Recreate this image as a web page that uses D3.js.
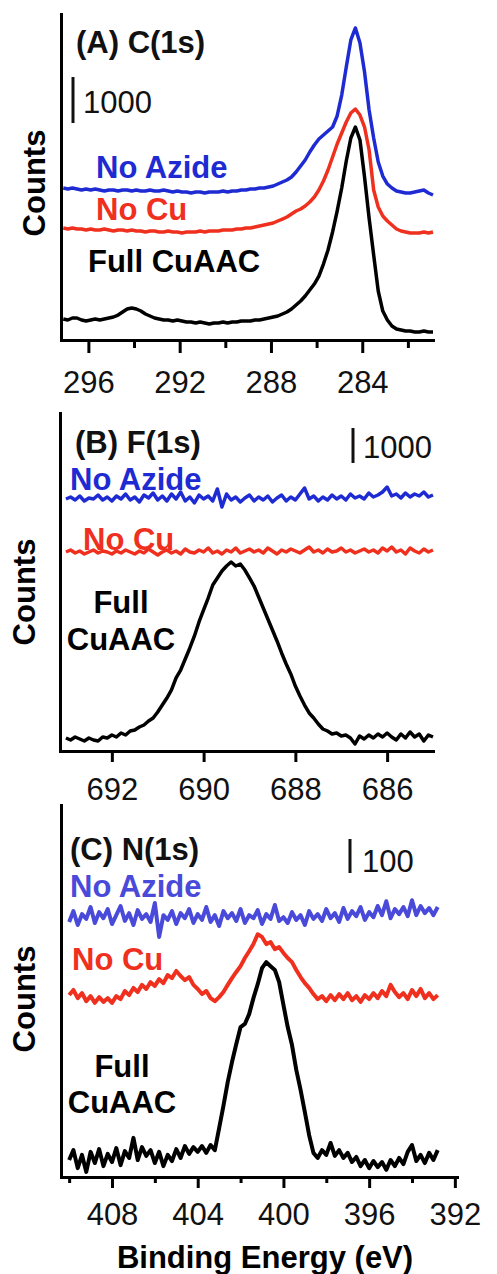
<!DOCTYPE html>
<html><head><meta charset="utf-8">
<script src="https://cdn.jsdelivr.net/npm/d3@7"></script>
<style>
html,body{margin:0;padding:0;background:#fff;}
svg{display:block;}
text{font-family:"Liberation Sans",Arial,Helvetica,sans-serif;}
</style></head><body>
<svg id="chart" width="497" height="1274"></svg>
<script>
// ---------- DATA ----------
// Panel A: C(1s), binding energy (eV)
const energiesA = [297.1,296.9,296.7,296.5,296.3,296.1,295.9,295.7,295.5,295.3,295.1,294.9,294.7,294.5,294.3,294.1,293.9,293.7,293.5,293.3,293.1,292.9,292.7,292.5,292.3,292.1,291.9,291.7,291.5,291.3,291.1,290.9,290.7,290.5,290.3,290.1,289.9,289.7,289.5,289.3,289.1,288.9,288.7,288.5,288.3,288.1,287.9,287.7,287.5,287.3,287.1,286.9,286.7,286.5,286.3,286.1,285.9,285.7,285.5,285.3,285.1,284.9,284.7,284.5,284.3,284.1,283.9,283.7,283.5,283.3,283.1,282.9,282.7,282.5,282.3,282.1,281.9,281.7,281.5,281.3,281.1,280.9];
const fullCuAAC_A = [457,435,478,478,435,413,435,457,435,457,478,500,543,609,674,696,674,630,565,522,478,457,435,435,413,435,413,391,391,370,391,370,348,370,370,391,370,391,391,413,413,413,435,435,457,478,500,522,565,609,674,761,848,957,1087,1217,1391,1652,1957,2348,2804,3304,3891,4391,4630,4348,3543,2652,1848,1065,630,435,304,239,217,196,196,174,174,196,174,174];
const noCu_A = [2435,2413,2435,2413,2413,2391,2413,2391,2391,2413,2391,2370,2391,2391,2370,2391,2370,2370,2348,2370,2370,2348,2348,2370,2348,2348,2326,2348,2348,2348,2370,2348,2370,2370,2370,2391,2391,2391,2413,2413,2435,2435,2457,2478,2500,2522,2543,2587,2630,2674,2739,2804,2848,2913,3000,3109,3261,3457,3696,3978,4261,4500,4739,4935,5022,4891,4630,4130,3261,2891,2696,2587,2500,2413,2370,2348,2326,2326,2326,2348,2326,2348];
const noAzide_A = [3304,3283,3304,3283,3261,3283,3261,3283,3261,3239,3261,3261,3239,3261,3261,3239,3261,3239,3239,3261,3239,3239,3261,3239,3217,3239,3217,3217,3196,3217,3217,3196,3217,3217,3217,3239,3217,3239,3239,3261,3261,3283,3283,3304,3304,3326,3348,3391,3435,3478,3543,3652,3783,3913,4087,4239,4370,4457,4543,4630,4870,5326,5935,6522,6783,6457,5826,5000,4391,3870,3565,3391,3304,3239,3217,3196,3196,3217,3239,3261,3196,3152];
const majorTicksA = [296,292,288,284];
const minorTicksA = [294,290,286,282];

// Panel B: F(1s)
const energiesB = [693.0,692.9,692.8,692.7,692.6,692.5,692.4,692.3,692.2,692.1,692.0,691.9,691.8,691.7,691.6,691.5,691.4,691.3,691.2,691.1,691.0,690.9,690.8,690.7,690.6,690.5,690.4,690.3,690.2,690.1,690.0,689.9,689.8,689.7,689.6,689.5,689.4,689.3,689.2,689.1,689.0,688.9,688.8,688.7,688.6,688.5,688.4,688.3,688.2,688.1,688.0,687.9,687.8,687.7,687.6,687.5,687.4,687.3,687.2,687.1,687.0,686.9,686.8,686.7,686.6,686.5,686.4,686.3,686.2,686.1,686.0,685.9,685.8,685.7,685.6,685.5,685.4,685.3,685.2,685.1,685.0];
const fullCuAAC_B = [371,314,400,343,286,371,314,286,400,371,457,400,514,457,571,600,686,743,857,943,1114,1314,1514,1743,2086,2314,2629,2943,3286,3686,4029,4371,4743,4943,5143,5286,5400,5286,5343,5171,4943,4714,4400,4086,3771,3457,3143,2800,2486,2200,1857,1571,1314,1086,943,771,629,571,486,514,429,457,371,200,429,343,457,371,486,400,514,400,314,486,371,543,400,486,286,457,400];
const noCu_B = [5686,5743,5657,5714,5629,5686,5743,5657,5714,5686,5629,5714,5657,5743,5686,5629,5714,5657,5771,5686,5600,5686,5743,5657,5714,5629,5771,5686,5657,5743,5686,5800,5657,5714,5629,5743,5686,5800,5657,5714,5771,5686,5743,5657,5800,5714,5629,5743,5686,5771,5714,5657,5743,5829,5686,5743,5657,5771,5686,5714,5800,5686,5743,5657,5714,5771,5686,5743,5657,5800,5714,5829,5686,5743,5629,5800,5714,5657,5771,5686,5743];
const noAzide_B = [7200,7257,7171,7286,7143,7229,7200,7314,7171,7257,7143,7286,7200,7343,7171,7257,7114,7314,7229,7371,7171,7286,7143,7343,7200,7400,7143,7257,7086,7314,7200,7286,7143,7486,6971,7343,7171,7257,7114,7229,7314,7143,7257,7171,7286,7114,7229,7314,7143,7257,7171,7343,7514,7200,7286,7143,7257,7171,7314,7200,7286,7171,7343,7229,7286,7200,7371,7257,7314,7400,7543,7286,7343,7229,7371,7257,7343,7286,7400,7257,7314];
const majorTicksB = [692,690,688,686];
const minorTicksB = [];

// Panel C: N(1s)
const energiesC = [410.0,409.8,409.6,409.4,409.2,409.0,408.8,408.6,408.4,408.2,408.0,407.8,407.6,407.4,407.2,407.0,406.8,406.6,406.4,406.2,406.0,405.8,405.6,405.4,405.2,405.0,404.8,404.6,404.4,404.2,404.0,403.8,403.6,403.4,403.2,403.0,402.8,402.6,402.4,402.2,402.0,401.8,401.6,401.4,401.2,401.0,400.8,400.6,400.4,400.2,400.0,399.8,399.6,399.4,399.2,399.0,398.8,398.6,398.4,398.2,398.0,397.8,397.6,397.4,397.2,397.0,396.8,396.6,396.4,396.2,396.0,395.8,395.6,395.4,395.2,395.0,394.8,394.6,394.4,394.2,394.0,393.8,393.6,393.4,393.2,393.0,392.8];
const fullCuAAC_C = [50,79,26,65,15,74,41,82,32,68,44,85,35,76,56,115,50,88,62,79,41,74,32,65,47,82,56,91,68,88,74,91,71,94,79,144,209,279,338,391,441,450,479,526,567,614,632,620,609,573,506,441,388,315,256,191,123,71,56,79,65,100,62,79,56,71,44,59,32,50,26,47,29,44,21,50,32,56,38,74,94,47,65,41,71,50,79];
const noCu_C = [535,550,526,541,517,532,512,529,515,526,512,532,523,547,535,556,544,565,553,573,562,582,570,594,585,606,591,579,588,565,553,538,547,526,517,529,544,565,585,603,620,644,664,685,714,706,685,691,670,676,659,644,632,609,588,570,556,538,523,532,517,535,520,538,523,541,520,532,515,535,523,541,526,547,532,565,544,529,541,523,550,532,553,526,541,523,535];
const noAzide_C = [750,782,741,773,759,794,747,779,761,788,744,770,797,753,776,741,785,759,773,750,806,706,770,756,782,744,776,761,788,747,773,756,794,750,770,738,782,761,776,753,788,747,770,761,785,744,773,759,800,753,764,747,779,756,770,741,782,759,773,753,788,761,776,750,791,759,782,767,794,756,779,764,797,770,811,761,788,773,794,767,814,770,797,776,791,770,794];
const majorTicksC = [408,404,400,396,392];
const minorTicksC = [410,406,402,398,394];

const seriesNames = ["No Azide","No Cu","Full CuAAC"];
const panelTitles = ["(A) C(1s)","(B) F(1s)","(C) N(1s)"];
const scaleBarValues = [1000,1000,100];
const xTitle = "Binding Energy (eV)";
const yTitle = "Counts";

// ---------- LAYOUT / STYLE ----------
const BLUE = "#1f2bd2", BLUE_C = "#4a4ada", RED = "#f0301e", BLACK = "#000";
const FONT = 31;

const panels = [
  { energies: energiesA, series: [noAzide_A, noCu_A, fullCuAAC_A], colors:[BLUE,RED,BLACK],
    major: majorTicksA, minor: minorTicksA, lineW: 3.5,
    xDomain:[297.2,280.9], xRange:[61,433], yDomain:[0,7087], yRange:[340,14],
    majorLen:13, minorLen:8, tickPad:18,
    title:{x:76,y:53}, bar:{x:73, base:4717, tx:83, ty:113},
    yLab:{x:45,y:183},
    labels:[{i:0,x:96,y:178,anchor:"start",lines:["No Azide"]},
            {i:1,x:96,y:220,anchor:"start",lines:["No Cu"]},
            {i:2,x:88,y:272,anchor:"start",lines:["Full CuAAC"]}] },
  { energies: energiesB, series: [noAzide_B, noCu_B, fullCuAAC_B], colors:[BLUE,RED,BLACK],
    major: majorTicksB, minor: minorTicksB, lineW: 3.5,
    xDomain:[693.13,685.0], xRange:[60,433], yDomain:[0,9657], yRange:[751,413],
    majorLen:11, minorLen:6, tickPad:16,
    title:{x:75,y:453}, bar:{x:353, base:8229, tx:363, ty:458},
    yLab:{x:35,y:592},
    labels:[{i:0,x:70,y:490,anchor:"start",lines:["No Azide"]},
            {i:1,x:83,y:550,anchor:"start",lines:["No Cu"]},
            {i:2,x:121,y:613,anchor:"middle",lines:["Full","CuAAC"],dy:37}] },
  { energies: energiesC, series: [noAzide_C, noCu_C, fullCuAAC_C], colors:[BLUE_C,RED,BLACK],
    major: majorTicksC, minor: minorTicksC, lineW: 4,
    xDomain:[410.38,391.9], xRange:[61,457], yDomain:[0,1094], yRange:[1177,805],
    majorLen:11, minorLen:6, tickPad:15,
    title:{x:70,y:860}, bar:{x:350, base:894, tx:362, ty:872},
    yLab:{x:35,y:999},
    labels:[{i:0,x:70,y:897,anchor:"start",lines:["No Azide"]},
            {i:1,x:72,y:970,anchor:"start",lines:["No Cu"]},
            {i:2,x:122,y:1077,anchor:"middle",lines:["Full","CuAAC"],dy:36}] }
];

const svg = d3.select("#chart");

panels.forEach((p, pi) => {
  const x = d3.scaleLinear().domain(p.xDomain).range(p.xRange);
  const y = d3.scaleLinear().domain(p.yDomain).range(p.yRange);
  const g = svg.append("g");

  // traces
  const line = d3.line().x(d => x(d[0])).y(d => y(d[1]));
  p.series.forEach((vals, si) => {
    const pts = p.energies.map((e, k) => [e, vals[k]]);
    g.append("path").datum(pts)
      .attr("d", line)
      .attr("fill", "none")
      .attr("stroke", p.colors[si])
      .attr("stroke-width", p.lineW)
      .attr("stroke-linejoin", "round");
  });

  // minor ticks
  if (p.minor.length) {
    const minorAxis = d3.axisBottom(x).tickValues(p.minor).tickSize(p.minorLen).tickFormat("").tickSizeOuter(0);
    const gm = g.append("g").attr("transform", `translate(0,${p.yRange[0]})`).call(minorAxis);
    gm.select(".domain").remove();
    gm.selectAll("line").attr("stroke", BLACK).attr("stroke-width", 3);
  }
  // major ticks + labels
  const xAxis = d3.axisBottom(x).tickValues(p.major).tickSize(p.majorLen).tickPadding(p.tickPad).tickSizeOuter(0).tickFormat(d3.format("d"));
  const gx = g.append("g").attr("transform", `translate(0,${p.yRange[0]})`).call(xAxis);
  gx.select(".domain").attr("stroke", BLACK).attr("stroke-width", 3).attr("stroke-linecap","square");
  gx.selectAll(".tick line").attr("stroke", BLACK).attr("stroke-width", 3);
  gx.selectAll(".tick text").attr("fill", "#111")
    .style("font-family", '"Liberation Sans",Arial,sans-serif').style("font-size", FONT + "px");

  // y axis (no ticks)
  const yAxis = d3.axisLeft(y).tickValues([]).tickSizeOuter(0);
  const gy = g.append("g").attr("transform", `translate(${p.xRange[0]},0)`).call(yAxis);
  gy.select(".domain").attr("stroke", BLACK).attr("stroke-width", 3).attr("stroke-linecap","square");

  // y title
  g.append("text").text(yTitle)
    .attr("transform", `translate(${p.yLab.x},${p.yLab.y}) rotate(-90)`)
    .attr("text-anchor", "middle")
    .attr("font-size", FONT).attr("font-weight", "bold").attr("fill", BLACK);

  // panel title
  g.append("text").text(panelTitles[pi])
    .attr("x", p.title.x).attr("y", p.title.y)
    .attr("font-size", FONT).attr("font-weight", "bold").attr("fill", "#111");

  // scale bar
  const sv = scaleBarValues[pi];
  g.append("line")
    .attr("x1", p.bar.x).attr("x2", p.bar.x)
    .attr("y1", y(p.bar.base)).attr("y2", y(p.bar.base + sv))
    .attr("stroke", "#111").attr("stroke-width", 3);
  g.append("text").text(sv)
    .attr("x", p.bar.tx).attr("y", p.bar.ty)
    .attr("font-size", FONT).attr("fill", "#111");

  // series labels
  p.labels.forEach(l => {
    const t = g.append("text")
      .attr("x", l.x).attr("y", l.y)
      .attr("text-anchor", l.anchor)
      .attr("font-size", FONT).attr("font-weight", "bold")
      .attr("fill", p.colors[l.i]);
    l.lines.forEach((s, k) => {
      t.append("tspan").attr("x", l.x).attr("dy", k === 0 ? 0 : l.dy).text(s);
    });
  });
});

// x-axis title
svg.append("text").text(xTitle)
  .attr("x", 265).attr("y", 1268)
  .attr("text-anchor", "middle")
  .attr("font-size", FONT).attr("font-weight", "bold").attr("fill", BLACK);
</script>
</body></html>
